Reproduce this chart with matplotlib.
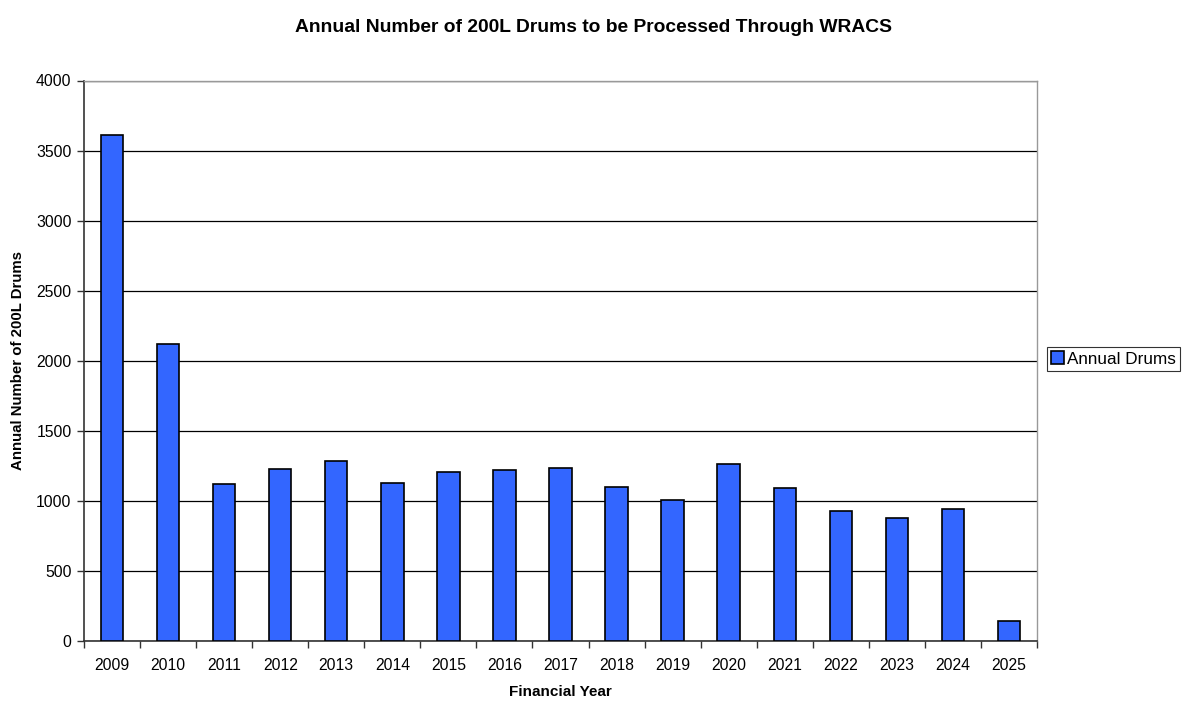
import matplotlib
matplotlib.use("Agg")
import matplotlib.pyplot as plt
import numpy as np
from matplotlib.ticker import FixedLocator

years = ["2009", "2010", "2011", "2012", "2013", "2014", "2015", "2016", "2017",
         "2018", "2019", "2020", "2021", "2022", "2023", "2024", "2025"]
drums = [3612, 2117, 1121, 1224, 1281, 1129, 1207, 1217, 1232,
         1096, 1007, 1260, 1091, 929, 876, 939, 146]

plt.rcParams['font.family'] = ['Liberation Sans', 'DejaVu Sans']

fig = plt.figure(figsize=(11.87, 7.02), dpi=100)
L, R, T, B = 84, 1037, 80.5, 641
ax = fig.add_axes([L/1187, (702-B)/702, (R-L)/1187, (B-T)/702])

x = np.arange(len(years))
ax.bar(x, drums, width=0.4, color="#3366FF", edgecolor="black", linewidth=1.2,
       label="Annual Drums", zorder=3)

ax.set_xlim(-0.5, len(years) - 0.5)
ax.set_ylim(0, 4000)
ax.set_yticks(np.arange(0, 4001, 500))
ax.yaxis.grid(True, color="black", linewidth=0.9, zorder=0)
ax.set_axisbelow(True)

ax.set_xticks(x)
ax.set_xticklabels(years, fontsize=11.3)
ax.tick_params(axis='x', which='major', length=0, pad=12)
ax.xaxis.set_minor_locator(FixedLocator(np.arange(-0.5, len(years), 1.0)))
ax.tick_params(axis='x', which='minor', length=5, width=1, color="#333333")
ax.tick_params(axis='y', labelsize=11.3, length=5, width=1, color="#333333", pad=4)

for s in ['left', 'bottom']:
    ax.spines[s].set_color("#333333")
    ax.spines[s].set_linewidth(1.2)
for s in ['top', 'right']:
    ax.spines[s].set_color("#999999")
    ax.spines[s].set_linewidth(1.0)

ax.set_xlabel("Financial Year", fontsize=11, fontweight='bold', labelpad=9)
ax.set_ylabel("Annual Number of 200L Drums", fontsize=10.8, fontweight='bold')
ax.yaxis.set_label_coords(-(L - 25) / (R - L), 0.5)
fig.text(0.5, 1 - 27/702, "Annual Number of 200L Drums to be Processed Through WRACS",
         ha='center', va='center', fontsize=13.9, fontweight='bold')

leg = fig.legend(loc='center left', bbox_to_anchor=(1047/1187, 1 - 359/702),
                 fontsize=12.3, frameon=True, fancybox=False, edgecolor='black',
                 handlelength=0.72, handleheight=0.72, handletextpad=0.2,
                 borderpad=0.25, borderaxespad=0)
leg.get_frame().set_linewidth(0.8)

fig.savefig("out.png", dpi=100)
